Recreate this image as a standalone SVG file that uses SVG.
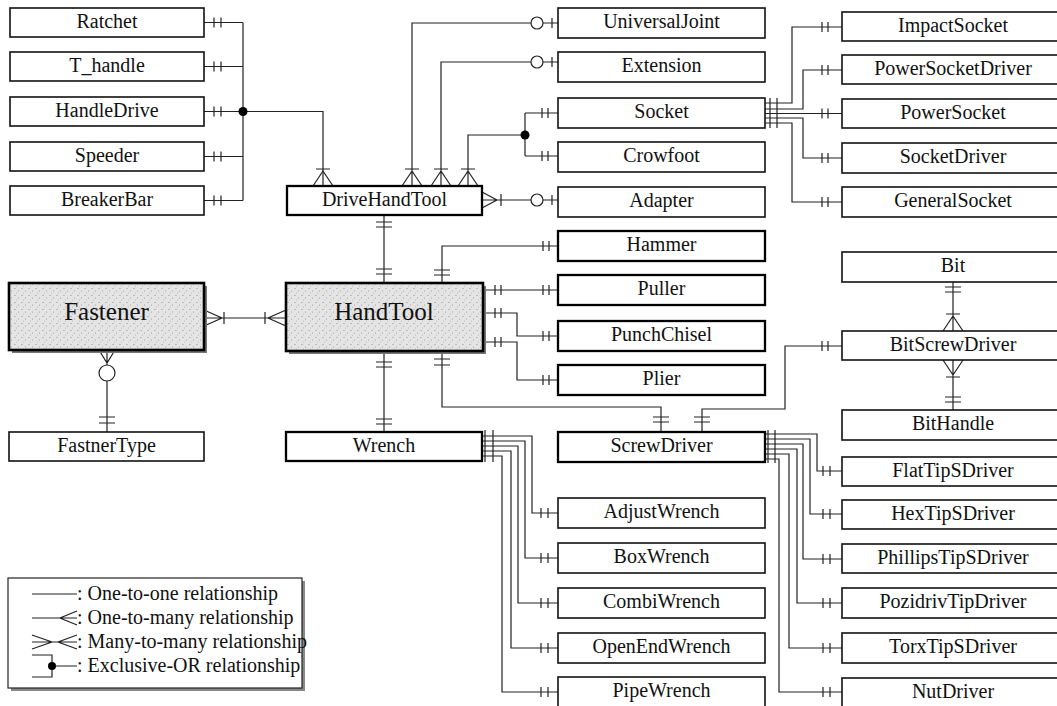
<svg xmlns="http://www.w3.org/2000/svg" width="1057" height="706" viewBox="0 0 1057 706">
<style>
.b{fill:#fff;stroke:#111;stroke-width:1.6}
.bb{fill:#fff;stroke:#000;stroke-width:2.3}
.big{fill:url(#stip);stroke:#000;stroke-width:2.6}
.sh{fill:#777}
.t{font-family:"Liberation Serif","Times New Roman",serif;font-size:20px;fill:#111;text-anchor:middle}
.tb{font-family:"Liberation Serif","Times New Roman",serif;font-size:25px;fill:#111;text-anchor:middle}
.lt{font-family:"Liberation Serif","Times New Roman",serif;font-size:20px;fill:#111}
.c{fill:none;stroke:#222;stroke-width:1.2}
.o{fill:#fff;stroke:#222;stroke-width:1.2}
.d{fill:#000}
</style>
<defs>
<pattern id="stip" width="7" height="7" patternUnits="userSpaceOnUse">
<rect width="7" height="7" fill="#e4e4e4"/>
<circle cx="1" cy="1.5" r="0.6" fill="#8a8a8a"/>
<circle cx="4.5" cy="4" r="0.6" fill="#9a9a9a"/>
<circle cx="2.5" cy="6" r="0.5" fill="#b0b0b0"/>
</pattern>
</defs>

<g id="connectors">
<path class="c" d="M204,22.5H243M204,66.5H243M204,111.5H243M204,156.5H243M204,200.5H243M243,22.5V200.5M243,111.5H323V186"/>
<path class="c" d="M214,17.5V27.5M221,17.5V27.5M214,61.5V71.5M221,61.5V71.5M214,106.5V116.5M221,106.5V116.5M214,151.5V161.5M221,151.5V161.5M214,195.5V205.5M221,195.5V205.5"/>
<circle class="d" cx="243" cy="111.5" r="4.5"/>
<path class="c" d="M313,186L323,171L333,186M316,169H330"/>
<path class="c" d="M412,186V23H531M543,23H558M552,18V28M402,186L412,171L422,186M405,169H419"/>
<circle class="o" cx="537" cy="23" r="6"/>
<path class="c" d="M441,186V62H531M543,62H558M552,57V67M431,186L441,171L451,186M434,169H448"/>
<circle class="o" cx="537" cy="62" r="6"/>
<path class="c" d="M468,186V135H525M525,113V156M525,113H558M525,156H558M542,108V118M548,108V118M542,151V161M548,151V161M458,186L468,171L478,186M461,169H475"/>
<circle class="d" cx="525" cy="135" r="4.5"/>
<path class="c" d="M482,200H531M543,200H558M552,195V205M482,192L497,200L482,208M501,194V206"/>
<circle class="o" cx="537" cy="200" r="6"/>
<path class="c" d="M384,215V283M376,222H392M376,227H392M376,269H392M376,274H392"/>
<path class="c" d="M442,283V246H558M434,270H450M434,275H450M543,241V251M549,241V251"/>
<path class="c" d="M483,290H558M495,285V295M501,285V295M543,285V295M549,285V295"/>
<path class="c" d="M483,313H517V336H558M495,308V318M501,308V318M543,331V341M549,331V341"/>
<path class="c" d="M483,342H517V380H558M495,337V347M501,337V347M543,375V385M549,375V385"/>
<path class="c" d="M204,318H286M204,310L222,318L204,326M224,312V324M286,310L268,318L286,326M265,312V324"/>
<path class="c" d="M99,350L107,363L115,350M107,350V365M107,381V432M99,417H115M99,423H115"/>
<circle class="o" cx="107" cy="373" r="8"/>
<path class="c" d="M384,351V432M376,362H392M376,367H392M376,419H392M376,424H392"/>
<path class="c" d="M442,351V407H661V432M434,359H450M434,365H450M653,417H669M653,422H669"/>
<path class="c" d="M842,346H785V409H702V432M822,341V351M828,341V351M694,417H710M694,422H710"/>
<path class="c" d="M953,282V331M945,287H961M945,292H961M943,331L953,316L963,331M946,314H960"/>
<path class="c" d="M953,360V410M943,360L953,375L963,360M946,377H960M945,397H961M945,402H961"/>
<path class="c" d="M765,103H792V27H842M765,109H803V70H842M765,113.5H842M765,118H803V158H842M765,123H792V202H842"/>
<path class="c" d="M770,98V128M777,98V128M822,22V32M828,22V32M822,65V75M828,65V75M822,108.5V118.5M828,108.5V118.5M822,153V163M828,153V163M822,197V207M828,197V207"/>
<path class="c" d="M482,436H532V513H558M482,441H525V558H558M482,446H518V603H558M482,451H511V648H558M482,456H502V692H558"/>
<path class="c" d="M485,430V462M493,430V462M541,508V518M548,508V518M541,553V563M548,553V563M541,598V608M548,598V608M541,643V653M548,643V653M541,687V697M548,687V697"/>
<path class="c" d="M765,434H817V471H842M765,439H810V514H842M765,444H803V559H842M765,449H797V603H842M765,454H789V648H842M765,459H779V692H842"/>
<path class="c" d="M768,430V463M775,430V463M823,466V476M830,466V476M823,509V519M830,509V519M823,554V564M830,554V564M823,598V608M830,598V608M823,643V653M830,643V653M823,687V697M830,687V697"/>
</g>

<g id="Ratchet"><rect class="b" x="10" y="8" width="194" height="29"/><text class="t" x="107" y="28">Ratchet</text></g>
<g id="T_handle"><rect class="b" x="10" y="52" width="194" height="29"/><text class="t" x="107" y="72">T_handle</text></g>
<g id="HandleDrive"><rect class="b" x="10" y="97" width="194" height="29"/><text class="t" x="107" y="117">HandleDrive</text></g>
<g id="Speeder"><rect class="b" x="10" y="142" width="194" height="29"/><text class="t" x="107" y="162">Speeder</text></g>
<g id="BreakerBar"><rect class="b" x="10" y="186" width="194" height="29"/><text class="t" x="107" y="206">BreakerBar</text></g>

<g id="Fastener"><rect class="sh" x="12" y="286" width="195" height="67"/><rect class="big" x="9" y="283" width="195" height="67"/><text class="tb" x="106.5" y="320">Fastener</text></g>
<g id="FastnerType"><rect class="b" x="9" y="432" width="195" height="29"/><text class="t" x="106.5" y="452">FastnerType</text></g>

<g id="DriveHandTool"><rect class="bb" x="287" y="186" width="195" height="29"/><text class="t" x="384.5" y="206">DriveHandTool</text></g>
<g id="HandTool"><rect class="sh" x="289" y="286" width="197" height="68"/><rect class="big" x="286" y="283" width="197" height="68"/><text class="tb" x="384" y="320">HandTool</text></g>
<g id="Wrench"><rect class="bb" x="286" y="432" width="196" height="29"/><text class="t" x="384" y="452">Wrench</text></g>

<g id="UniversalJoint"><rect class="b" x="558" y="8" width="207" height="30"/><text class="t" x="661.5" y="28">UniversalJoint</text></g>
<g id="Extension"><rect class="b" x="558" y="52" width="207" height="30"/><text class="t" x="661.5" y="72">Extension</text></g>
<g id="Socket"><rect class="b" x="558" y="98" width="207" height="30"/><text class="t" x="661.5" y="118">Socket</text></g>
<g id="Crowfoot"><rect class="b" x="558" y="142" width="207" height="30"/><text class="t" x="661.5" y="162">Crowfoot</text></g>
<g id="Adapter"><rect class="b" x="558" y="187" width="207" height="30"/><text class="t" x="661.5" y="207">Adapter</text></g>
<g id="Hammer"><rect class="bb" x="558" y="231" width="207" height="30"/><text class="t" x="661.5" y="251">Hammer</text></g>
<g id="Puller"><rect class="bb" x="558" y="275" width="207" height="30"/><text class="t" x="661.5" y="295">Puller</text></g>
<g id="PunchChisel"><rect class="bb" x="558" y="321" width="207" height="30"/><text class="t" x="661.5" y="341">PunchChisel</text></g>
<g id="Plier"><rect class="bb" x="558" y="365" width="207" height="30"/><text class="t" x="661.5" y="385">Plier</text></g>
<g id="ScrewDriver"><rect class="bb" x="558" y="432" width="207" height="30"/><text class="t" x="661.5" y="452">ScrewDriver</text></g>
<g id="AdjustWrench"><rect class="b" x="558" y="498" width="207" height="30"/><text class="t" x="661.5" y="518">AdjustWrench</text></g>
<g id="BoxWrench"><rect class="b" x="558" y="543" width="207" height="30"/><text class="t" x="661.5" y="563">BoxWrench</text></g>
<g id="CombiWrench"><rect class="b" x="558" y="588" width="207" height="30"/><text class="t" x="661.5" y="608">CombiWrench</text></g>
<g id="OpenEndWrench"><rect class="b" x="558" y="633" width="207" height="30"/><text class="t" x="661.5" y="653">OpenEndWrench</text></g>
<g id="PipeWrench"><rect class="b" x="558" y="677" width="207" height="32"/><text class="t" x="661.5" y="697">PipeWrench</text></g>

<g id="ImpactSocket"><rect class="b" x="842" y="12" width="230" height="29"/><text class="t" x="953" y="32">ImpactSocket</text></g>
<g id="PowerSocketDriver"><rect class="b" x="842" y="55" width="230" height="29"/><text class="t" x="953" y="75">PowerSocketDriver</text></g>
<g id="PowerSocket"><rect class="b" x="842" y="99" width="230" height="29"/><text class="t" x="953" y="119">PowerSocket</text></g>
<g id="SocketDriver"><rect class="b" x="842" y="143" width="230" height="30"/><text class="t" x="953" y="163">SocketDriver</text></g>
<g id="GeneralSocket"><rect class="b" x="842" y="187" width="230" height="30"/><text class="t" x="953" y="207">GeneralSocket</text></g>
<g id="Bit"><rect class="b" x="842" y="252" width="230" height="30"/><text class="t" x="953" y="272">Bit</text></g>
<g id="BitScrewDriver"><rect class="b" x="842" y="331" width="230" height="29"/><text class="t" x="953" y="351">BitScrewDriver</text></g>
<g id="BitHandle"><rect class="b" x="842" y="410" width="230" height="30"/><text class="t" x="953" y="430">BitHandle</text></g>
<g id="FlatTipSDriver"><rect class="b" x="842" y="457" width="230" height="29"/><text class="t" x="953" y="477">FlatTipSDriver</text></g>
<g id="HexTipSDriver"><rect class="b" x="842" y="500" width="230" height="29"/><text class="t" x="953" y="520">HexTipSDriver</text></g>
<g id="PhillipsTipSDriver"><rect class="b" x="842" y="544" width="230" height="29"/><text class="t" x="953" y="564">PhillipsTipSDriver</text></g>
<g id="PozidrivTipDriver"><rect class="b" x="842" y="588" width="230" height="30"/><text class="t" x="953" y="608">PozidrivTipDriver</text></g>
<g id="TorxTipSDriver"><rect class="b" x="842" y="633" width="230" height="30"/><text class="t" x="953" y="653">TorxTipSDriver</text></g>
<g id="NutDriver"><rect class="b" x="842" y="678" width="230" height="32"/><text class="t" x="953" y="698">NutDriver</text></g>

<g id="legend">
<rect x="11" y="581" width="294" height="110" fill="#888"/>
<rect x="8" y="578" width="294" height="110" fill="#fff" stroke="#222" stroke-width="1.2"/>
<path class="c" d="M32,594H77"/>
<path class="c" d="M32,618H77M77,611L60,618L77,625"/>
<path class="c" d="M32,642H77M32,635L52,642L32,649M77,635L58,642L77,649"/>
<path class="c" d="M32,655H52V677H32M52,666H77"/>
<circle class="d" cx="52" cy="666" r="4"/>
<text class="lt" x="77" y="600">: One-to-one relationship</text>
<text class="lt" x="77" y="624">: One-to-many relationship</text>
<text class="lt" x="77" y="648">: Many-to-many relationship</text>
<text class="lt" x="77" y="672">: Exclusive-OR relationship</text>
</g>
</svg>
